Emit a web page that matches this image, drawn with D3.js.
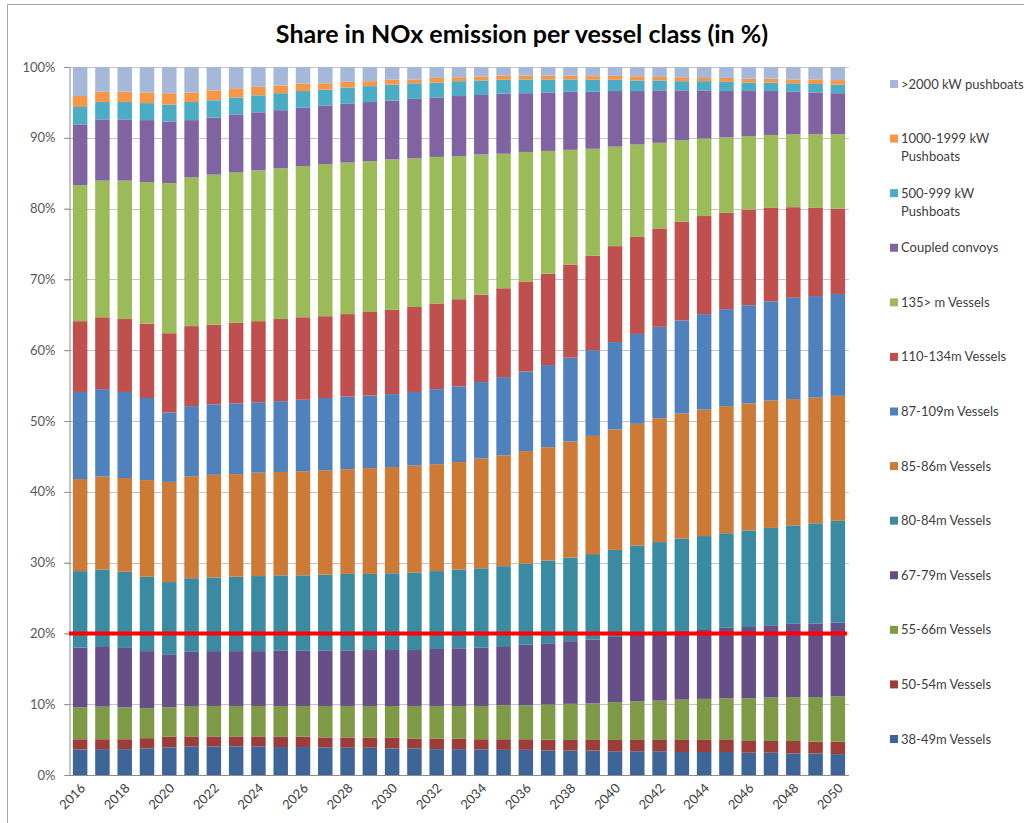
<!DOCTYPE html>
<html>
<head>
<meta charset="utf-8">
<script src="https://cdn.jsdelivr.net/npm/d3@7"></script>
<style>
body { margin: 0; background: #fff; }
#chart text { font-family: Lato, "Open Sans", sans-serif; }
</style>
</head>
<body>
<div id="chart"></div>
<script>
var years = d3.range(2016, 2051);

var seriesNames = [
    "38-49m Vessels", "50-54m Vessels", "55-66m Vessels", "67-79m Vessels",
    "80-84m Vessels", "85-86m Vessels", "87-109m Vessels", "110-134m Vessels",
    "135> m Vessels", "Coupled convoys", "500-999 kW Pushboats",
    "1000-1999 kW Pushboats", ">2000 kW pushboats"
];

var seriesColors = [
    "#3e6598", "#9c3d3a", "#7e9a47", "#664e86", "#3a8ba2", "#cc7a36",
    "#4f81bd", "#c0504d", "#9bbb59", "#8064a2", "#4bacc6", "#f79646", "#a6b8d9"
];

// share in % per year, one list per vessel class
var v38_49 = [3.6, 3.65, 3.65, 3.75, 3.9, 4.05, 4.05, 4.05, 4.05, 3.95, 3.95, 3.9, 3.85, 3.85, 3.75, 3.75, 3.65, 3.65, 3.6, 3.55, 3.55, 3.45, 3.45, 3.45, 3.35, 3.35, 3.35, 3.25, 3.25, 3.25, 3.15, 3.15, 3.05, 3.05, 2.95];
var v50_54 = [1.45, 1.4, 1.4, 1.45, 1.5, 1.4, 1.4, 1.4, 1.4, 1.5, 1.45, 1.4, 1.45, 1.4, 1.5, 1.4, 1.5, 1.5, 1.45, 1.5, 1.5, 1.55, 1.5, 1.5, 1.6, 1.6, 1.6, 1.7, 1.7, 1.7, 1.65, 1.65, 1.75, 1.65, 1.75];
var v55_66 = [4.5, 4.6, 4.5, 4.25, 4.15, 4.3, 4.3, 4.3, 4.3, 4.3, 4.35, 4.45, 4.45, 4.5, 4.5, 4.6, 4.6, 4.6, 4.7, 4.8, 4.8, 4.95, 5.1, 5.15, 5.35, 5.45, 5.55, 5.7, 5.8, 5.9, 6.05, 6.15, 6.2, 6.3, 6.4];
var v67_79 = [8.45, 8.55, 8.4, 8.05, 7.5, 7.65, 7.75, 7.75, 7.75, 7.85, 7.85, 7.85, 7.85, 7.9, 7.9, 7.9, 8.05, 8.15, 8.25, 8.35, 8.55, 8.65, 8.85, 9.05, 9.2, 9.55, 9.65, 9.7, 9.85, 10.0, 10.05, 10.2, 10.35, 10.4, 10.4];
var v80_84 = [10.8, 10.8, 10.75, 10.5, 10.2, 10.4, 10.4, 10.5, 10.6, 10.6, 10.6, 10.7, 10.8, 10.75, 10.85, 10.95, 11.0, 11.1, 11.2, 11.3, 11.45, 11.7, 11.8, 12.05, 12.3, 12.45, 12.75, 13.05, 13.15, 13.3, 13.65, 13.75, 13.9, 14.15, 14.4];
var v85_86 = [13.0, 13.15, 13.25, 13.65, 14.15, 14.4, 14.5, 14.5, 14.6, 14.6, 14.7, 14.75, 14.8, 14.95, 15.0, 15.1, 15.1, 15.2, 15.5, 15.65, 15.9, 16.0, 16.4, 16.7, 17.0, 17.2, 17.5, 17.65, 17.85, 17.95, 17.95, 18.0, 17.85, 17.75, 17.65];
var v87_109 = [12.3, 12.35, 12.15, 11.6, 9.8, 9.9, 9.95, 10.0, 9.95, 10.0, 10.1, 10.2, 10.25, 10.25, 10.3, 10.4, 10.6, 10.7, 10.8, 11.05, 11.25, 11.6, 11.85, 12.1, 12.35, 12.7, 12.9, 13.15, 13.5, 13.7, 13.85, 14.0, 14.3, 14.35, 14.4];
var v110_134 = [10.0, 10.15, 10.3, 10.5, 11.2, 11.3, 11.25, 11.4, 11.45, 11.6, 11.65, 11.55, 11.65, 11.8, 11.9, 12.0, 12.1, 12.3, 12.35, 12.55, 12.7, 12.9, 13.15, 13.35, 13.55, 13.7, 13.9, 13.95, 13.85, 13.6, 13.5, 13.2, 12.8, 12.45, 12.05];
var v135 = [19.2, 19.3, 19.55, 20.0, 21.2, 21.0, 21.2, 21.2, 21.3, 21.3, 21.35, 21.5, 21.4, 21.3, 21.25, 21.0, 20.7, 20.2, 19.8, 19.0, 18.3, 17.35, 16.2, 15.1, 14.05, 13.05, 12.1, 11.5, 10.95, 10.65, 10.4, 10.3, 10.3, 10.4, 10.5];
var coupled = [8.6, 8.65, 8.65, 8.75, 8.7, 8.1, 8.05, 8.2, 8.2, 8.2, 8.25, 8.25, 8.3, 8.35, 8.3, 8.4, 8.4, 8.5, 8.4, 8.5, 8.3, 8.25, 8.2, 8.05, 7.85, 7.55, 7.4, 7.05, 6.8, 6.55, 6.35, 6.2, 6.0, 5.9, 5.8];
var push500 = [2.45, 2.45, 2.45, 2.4, 2.4, 2.55, 2.45, 2.4, 2.4, 2.4, 2.35, 2.25, 2.3, 2.25, 2.25, 2.2, 2.1, 2.1, 2.05, 1.95, 1.95, 1.85, 1.75, 1.7, 1.6, 1.5, 1.4, 1.3, 1.3, 1.3, 1.2, 1.2, 1.2, 1.2, 1.2];
var push1000 = [1.55, 1.45, 1.45, 1.5, 1.6, 1.35, 1.4, 1.3, 1.2, 1.1, 1.05, 0.9, 0.8, 0.7, 0.7, 0.55, 0.65, 0.55, 0.55, 0.6, 0.55, 0.55, 0.55, 0.5, 0.55, 0.6, 0.5, 0.55, 0.45, 0.55, 0.55, 0.55, 0.55, 0.65, 0.65];
var push2000 = [4.1, 3.5, 3.5, 3.6, 3.7, 3.6, 3.3, 3.0, 2.8, 2.6, 2.35, 2.3, 2.1, 2.0, 1.8, 1.75, 1.55, 1.45, 1.35, 1.2, 1.2, 1.2, 1.2, 1.3, 1.25, 1.3, 1.4, 1.45, 1.55, 1.55, 1.65, 1.65, 1.75, 1.75, 1.85];

var seriesValues = [v38_49, v50_54, v55_66, v67_79, v80_84, v85_86, v87_109,
    v110_134, v135, coupled, push500, push1000, push2000];

var yTicks = [0, 10, 20, 30, 40, 50, 60, 70, 80, 90, 100];
var xLabelYears = years.filter(function(y) { return y % 2 == 0; });
var targetLine = 20;

var width = 1024, height = 823;
var plot = { left: 69, right: 849, top: 67, bottom: 775 };

var svg = d3.select("#chart").append("svg")
    .attr("width", width)
    .attr("height", height);

// outer frame of the picture
svg.append("path")
    .attr("d", "M7.5," + height + "V4.5H" + width)
    .attr("fill", "none")
    .attr("stroke", "#a6a6a6")
    .attr("stroke-width", 1);

svg.append("text")
    .attr("x", 522)
    .attr("y", 43)
    .attr("text-anchor", "middle")
    .attr("font-size", 25)
    .attr("font-weight", "bold")
    .attr("fill", "#000")
    .text("Share in NOx emission per vessel class (in %)");

var x = d3.scaleBand()
    .domain(years)
    .range([plot.left, plot.right])
    .paddingInner(0.35)
    .paddingOuter(0.175);

var y = d3.scaleLinear()
    .domain([0, 100])
    .range([plot.bottom, plot.top]);

// gridlines
svg.append("g")
    .selectAll("line")
    .data(yTicks.filter(function(t) { return t > 0; }))
    .enter()
    .append("line")
    .attr("x1", plot.left - 5)
    .attr("x2", plot.right)
    .attr("y1", function(d) { return Math.round(y(d)) + 0.5; })
    .attr("y2", function(d) { return Math.round(y(d)) + 0.5; })
    .attr("stroke", "#c4c4c4")
    .attr("stroke-width", 1);

// build stack table
var table = years.map(function(yr, i) {
    var row = { year: yr };
    seriesNames.forEach(function(name, k) {
        row[name] = seriesValues[k][i];
    });
    return row;
});

var stacked = d3.stack().keys(seriesNames)(table);

svg.append("g")
    .selectAll("g")
    .data(stacked)
    .enter()
    .append("g")
    .attr("fill", function(d, k) { return seriesColors[k]; })
    .selectAll("rect")
    .data(function(d) { return d; })
    .enter()
    .append("rect")
    .attr("x", function(d) { return x(d.data.year); })
    .attr("width", x.bandwidth())
    .attr("y", function(d) { return y(d[1]); })
    .attr("height", function(d) { return y(d[0]) - y(d[1]); });

// axes
var yAxis = svg.append("g")
    .attr("transform", "translate(" + (plot.left + 0.5) + ",0)")
    .call(d3.axisLeft(y).tickValues(yTicks)
        .tickFormat(function(d) { return d + "%"; })
        .tickSize(5).tickPadding(9));
yAxis.select(".domain").attr("stroke", "#8c8c8c");
yAxis.selectAll(".tick line").attr("stroke", "#8c8c8c");
yAxis.selectAll("text")
    .attr("font-size", 13)
    .attr("fill", "#595959")
    .style("font-family", "Lato, sans-serif");

svg.append("line")
    .attr("x1", plot.left)
    .attr("x2", plot.right)
    .attr("y1", plot.bottom + 0.5)
    .attr("y2", plot.bottom + 0.5)
    .attr("stroke", "#8c8c8c");

svg.append("g")
    .selectAll("text")
    .data(xLabelYears)
    .enter()
    .append("text")
    .attr("transform", function(d) {
        return "translate(" + (x(d) + x.bandwidth() / 2 + 6) + "," + (plot.bottom + 14) + ") rotate(-45)";
    })
    .attr("text-anchor", "end")
    .attr("font-size", 13)
    .attr("fill", "#404040")
    .text(function(d) { return d; });

// 20% target line
svg.append("line")
    .attr("x1", plot.left)
    .attr("x2", plot.right - 2)
    .attr("y1", y(targetLine))
    .attr("y2", y(targetLine))
    .attr("stroke", "#ff0000")
    .attr("stroke-width", 4);

// legend, top item is the top of the stack
var legendOrder = seriesNames.slice().reverse();
var legendY = d3.scalePoint()
    .domain(legendOrder)
    .range([84, 739]);

var legend = svg.append("g")
    .selectAll("g")
    .data(legendOrder)
    .enter()
    .append("g")
    .attr("transform", function(d) { return "translate(890," + legendY(d) + ")"; });

legend.append("rect")
    .attr("x", 0)
    .attr("y", -4)
    .attr("width", 8)
    .attr("height", 8)
    .attr("fill", function(d) { return seriesColors[seriesNames.indexOf(d)]; });

legend.append("text")
    .attr("x", 11)
    .attr("y", 4.5)
    .attr("font-size", 13)
    .attr("fill", "#404040")
    .each(function(d) {
        var t = d3.select(this);
        if (d.indexOf("kW Pushboats") > 0) {
            var parts = d.split(" Pushboats");
            t.append("tspan").attr("x", 11).text(parts[0]);
            t.append("tspan").attr("x", 11).attr("dy", 18).text("Pushboats");
        } else {
            t.text(d);
        }
    });
</script>
</body>
</html>
